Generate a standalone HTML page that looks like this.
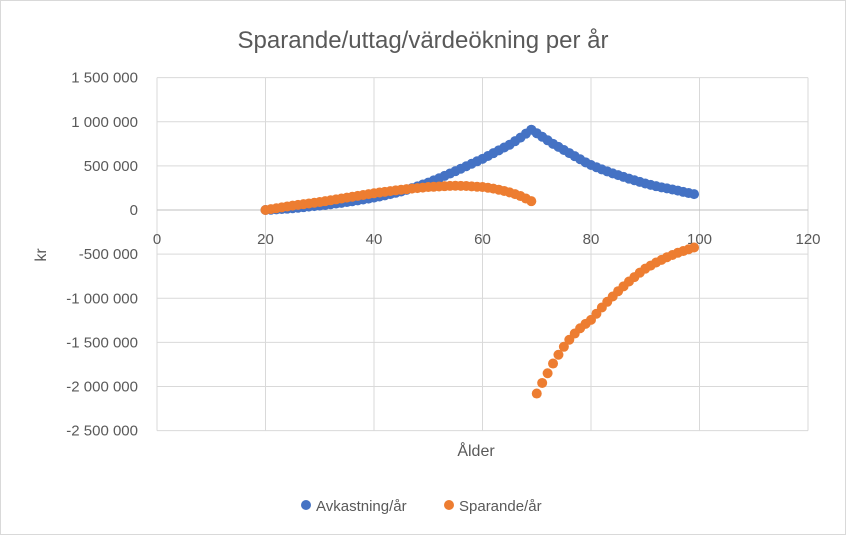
<!DOCTYPE html>
<html><head><meta charset="utf-8"><style>
body{margin:0;background:#fff}
svg{display:block;font-family:"Liberation Sans",sans-serif}
</style></head><body>
<svg width="846" height="535" id="chart">
<rect x="0.5" y="0.5" width="845" height="534" fill="#fff" stroke="#d9d9d9"/>
<text x="423" y="48" text-anchor="middle" font-size="24" fill="#595959">Sparande/uttag/värdeökning per år</text>
<g id="grid"></g><g id="labels"></g><g id="marks"></g>
<text transform="translate(46,255) rotate(-90)" text-anchor="middle" font-size="16" fill="#595959">kr</text>
<text x="476" y="456" text-anchor="middle" font-size="16" fill="#595959">Ålder</text>
<g>
<circle cx="306" cy="505" r="5" fill="#4472c4"/>
<text x="316" y="511" font-size="15" fill="#595959">Avkastning/år</text>
<circle cx="449" cy="505" r="5" fill="#ed7d31"/>
<text x="459" y="511" font-size="15" fill="#595959">Sparande/år</text>
</g>
</svg>
<script>
const xTicks=[0,20,40,60,80,100,120];
const yTicks=[1500000,1000000,500000,0,-500000,-1000000,-1500000,-2000000,-2500000];
const yTickLabels=["1 500 000","1 000 000","500 000","0","-500 000","-1 000 000","-1 500 000","-2 000 000","-2 500 000"];
const agesA=[20,21,22,23,24,25,26,27,28,29,30,31,32,33,34,35,36,37,38,39,40,41,42,43,44,45,46,47,48,49,50,51,52,53,54,55,56,57,58,59,60,61,62,63,64,65,66,67,68,69];
const agesB=[70,71,72,73,74,75,76,77,78,79,80,81,82,83,84,85,86,87,88,89,90,91,92,93,94,95,96,97,98,99];
const avkA=[0,3,7,11,15,20,26,32,38,44,50,57,65,73,81,90,99,109,119,129,140,153,166,180,195,210,228,248,268,289,310,335,360,386,413,440,468,496,524,552,580,612,644,676,708,740,780,820,865,910];
const avkB=[870,830,790,750,715,680,645,610,575,540,510,485,460,437,415,395,375,355,337,318,300,285,270,257,245,233,220,205,192,180];
const sparA=[0,10,20,30,40,50,58,66,74,82,90,100,110,120,130,140,150,160,170,180,190,198,206,214,222,230,236,242,248,254,260,263,266,270,273,275,274,272,268,264,260,252,242,230,216,200,180,158,130,100];
const sparB=[-2080,-1960,-1850,-1740,-1640,-1550,-1470,-1400,-1340,-1290,-1245,-1175,-1105,-1040,-980,-920,-865,-810,-760,-710,-665,-630,-595,-565,-535,-510,-485,-465,-445,-425];
const NS="http://www.w3.org/2000/svg";
const X=v=>157+(v-0)*(808-157)/120;
const Y=v=>210-v*(431-78)/4000000;
function mk(tag,at,parent){const e=document.createElementNS(NS,tag);for(const k in at)e.setAttribute(k,at[k]);parent.appendChild(e);return e;}
const grid=document.getElementById('grid'),labels=document.getElementById('labels'),marks=document.getElementById('marks');
xTicks.forEach(t=>{
 const l=mk('line',{x1:X(t),x2:X(t),y1:Y(1500000),y2:Y(-2500000),stroke:'#d9d9d9','stroke-width':1},grid);
 
 
 const tx=mk('text',{x:X(t),y:244,'text-anchor':'middle','font-size':15,fill:'#595959'},labels);
 tx.textContent=t;
 
 
});
yTicks.forEach((t,i)=>{
 const l=mk('line',{x1:X(0),x2:X(120),y1:Y(t),y2:Y(t),stroke:t===0?'#bfbfbf':'#d9d9d9','stroke-width':1},grid);
 
 
 const tx=mk('text',{x:138,y:Y(t)+5,'text-anchor':'end','font-size':15,fill:'#595959'},labels);
 tx.textContent=yTickLabels[i];
 
 
});
function series(ages,vals,color,name){
 ages.forEach((a,i)=>{
  const c=mk('circle',{cx:X(a),cy:Y(vals[i]*1000),r:5,fill:color},marks);
  
  
 });
}
series(agesA,avkA,'#4472c4','avkastning-point');
series(agesB,avkB,'#4472c4','avkastning-point');
series(agesA,sparA,'#ed7d31','sparande-point');
series(agesB,sparB,'#ed7d31','sparande-point');
</script>
</body></html>
